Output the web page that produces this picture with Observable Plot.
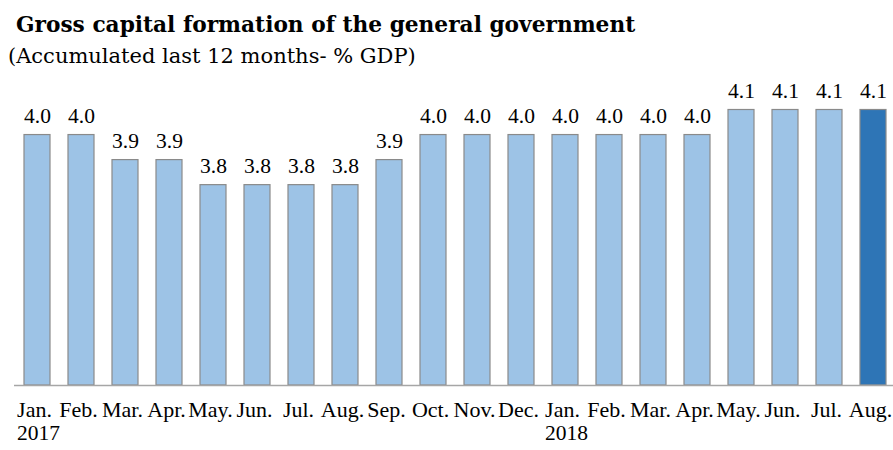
<!DOCTYPE html>
<html>
<head>
<meta charset="utf-8">
<script src="https://cdn.jsdelivr.net/npm/d3@7"></script>
<script src="https://cdn.jsdelivr.net/npm/@observablehq/plot@0.6"></script>
<style>
  html, body { margin: 0; padding: 0; background: #fff; }
  body { width: 893px; height: 450px; overflow: hidden; font-family: "Liberation Serif", serif; color: #000; }
  #title { position: absolute; left: 16px; top: 10px; font-family: "DejaVu Serif", serif; font-size: 21.7px; font-weight: bold; white-space: nowrap; line-height: 30px; }
  #subtitle { position: absolute; left: 8px; top: 42px; font-family: "DejaVu Serif", serif; font-size: 21px; white-space: nowrap; line-height: 28px; }
  #chart { position: absolute; left: 0; top: 70px; }
</style>
</head>
<body>
<div id="title">Gross capital formation of the general government</div>
<div id="subtitle">(Accumulated last 12 months- % GDP)</div>
<div id="chart"></div>
<script>
const months = ["Jan.","Feb.","Mar.","Apr.","May.","Jun.","Jul.","Aug.","Sep.","Oct.","Nov.","Dec.",
                "Jan.","Feb.","Mar.","Apr.","May.","Jun.","Jul.","Aug."];
const years = ["2017","","","","","","","","","","","","2018","","","","","","",""];
const values = [4.0,4.0,3.9,3.9,3.8,3.8,3.8,3.8,3.9,4.0,4.0,4.0,4.0,4.0,4.0,4.0,4.1,4.1,4.1,4.1];
const yMin = 3.0;
const yMax = 4.1;

const data = values.map((v, i) => ({i, month: months[i], year: years[i], value: v, last: i === values.length - 1}));
const yearData = data.filter(d => d.year !== "");

const light = "#9DC3E6", dark = "#2E75B6";

const plot = Plot.plot({
  width: 893,
  height: 380,
  marginLeft: 14,
  marginRight: 0,
  marginTop: 0,
  marginBottom: 0,
  style: {fontFamily: "Liberation Serif, serif", background: "transparent"},
  x: {type: "band", domain: d3.range(values.length), range: [14, 895], paddingInner: 0.41, paddingOuter: 0.205, axis: null},
  y: {domain: [yMin, yMax], range: [315, 39.5], axis: null},
  marks: [
    Plot.barY(data, {x: "i", y1: yMin, y2: "value", fill: d => d.last ? dark : light, stroke: "#8a8a8a", strokeWidth: 1.2}),
    Plot.ruleY([yMin], {stroke: "#a6a6a6", strokeWidth: 1.3}),
    Plot.text(data, {x: "i", y: "value", text: d => d.value.toFixed(1), dy: -12, lineAnchor: "bottom", fontSize: 21.5, fill: "#000"}),
    Plot.text(data, {x: "i", y: yMin, text: "month", dy: 31, dx: -3, lineAnchor: "bottom", fontSize: 22, fill: "#000"}),
    Plot.text(yearData, {x: "i", y: yMin, text: "year", dy: 54, dx: 1, lineAnchor: "bottom", fontSize: 21.5, fill: "#000"})
  ]
});
document.getElementById("chart").appendChild(plot);
</script>
</body>
</html>
